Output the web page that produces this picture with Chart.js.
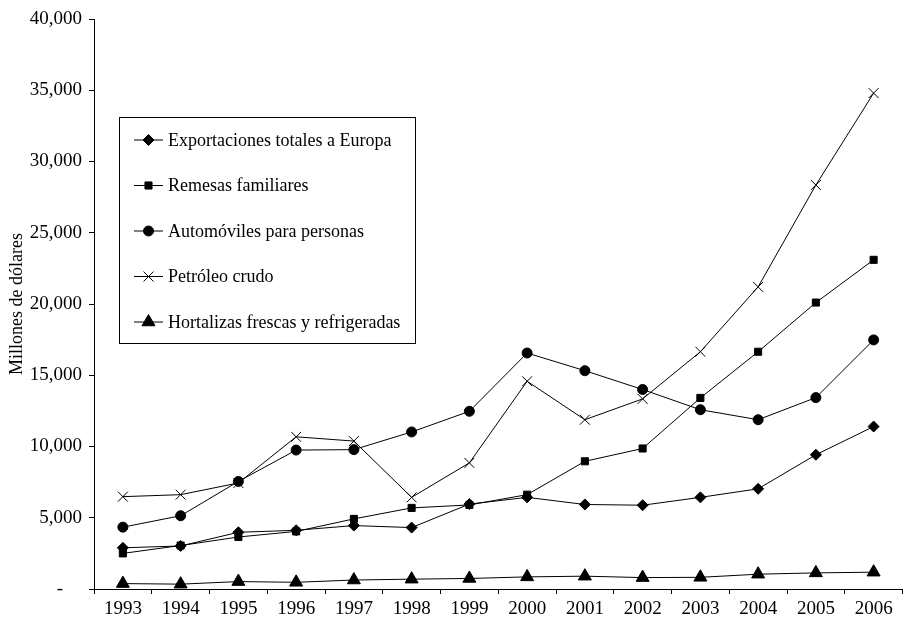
<!DOCTYPE html>
<html lang="es">
<head>
    <meta charset="UTF-8">
    <title>Exportaciones y remesas</title>
    <script src="https://cdn.jsdelivr.net/npm/chart.js"></script>
    <style>
        * { margin: 0; padding: 0; box-sizing: border-box; }
        html, body { width: 905px; height: 617px; overflow: hidden; background: #fff; }
        .wrap { width: 911px; height: 617px; }
    </style>
</head>
<body>
    <div class="wrap">
        <canvas id="chart" width="911" height="617"></canvas>
    </div>

    <script>
        const years = ['1993', '1994', '1995', '1996', '1997', '1998', '1999',
                       '2000', '2001', '2002', '2003', '2004', '2005', '2006'];
        const exportaciones = [2890, 3020, 3980, 4120, 4450, 4310, 5960, 6430, 5930, 5880, 6430, 7030, 9420, 11400];
        const remesas = [2500, 3050, 3650, 4040, 4920, 5690, 5900, 6620, 8960, 9860, 13410, 16650, 20100, 23100];
        const automoviles = [4340, 5140, 7550, 9750, 9780, 11020, 12470, 16560, 15320, 14000, 12580, 11880, 13430, 17480];
        const petroleo = [6480, 6620, 7440, 10680, 10380, 6430, 8850, 14580, 11880, 13340, 16650, 21200, 28350, 34800];
        const hortalizas = [380, 340, 520, 470, 630, 690, 740, 850, 900, 800, 820, 1040, 1130, 1180];
        const yTicks = [0, 5000, 10000, 15000, 20000, 25000, 30000, 35000, 40000];

        const serif = "'Liberation Serif', 'Times New Roman', serif";

        function series(label, data, pointStyle, radius) {
            return {
                label: label,
                data: data,
                borderColor: '#000',
                backgroundColor: '#000',
                borderWidth: 1,
                pointStyle: pointStyle,
                pointRadius: radius,
                pointBorderWidth: 1,
                pointBackgroundColor: '#000',
                pointBorderColor: '#000',
                tension: 0
            };
        }

        // legend box drawn inside the plot, like the original
        const boxLegend = {
            id: 'boxLegend',
            afterDraw(chart) {
                const ctx = chart.ctx;
                ctx.save();
                ctx.fillStyle = '#fff';
                ctx.fillRect(119.5, 117.5, 296, 226);
                ctx.strokeStyle = '#000';
                ctx.lineWidth = 1;
                ctx.strokeRect(119.5, 117.5, 296, 226);
                ctx.font = '18px ' + serif;
                ctx.textBaseline = 'middle';
                chart.data.datasets.forEach((ds, i) => {
                    const y = 140 + i * 45.5;
                    ctx.strokeStyle = '#000';
                    ctx.lineWidth = 1;
                    ctx.beginPath();
                    ctx.moveTo(134, y);
                    ctx.lineTo(163, y);
                    ctx.stroke();
                    ctx.fillStyle = '#000';
                    Chart.helpers.drawPoint(ctx, {
                        pointStyle: ds.pointStyle,
                        radius: ds.pointRadius,
                        rotation: 0,
                        borderWidth: 1
                    }, 148.5, y);
                    ctx.fillStyle = '#000';
                    ctx.fillText(ds.label, 168, y + 1);
                });
                ctx.restore();
            }
        };

        new Chart(document.getElementById('chart').getContext('2d'), {
            type: 'line',
            data: {
                labels: years,
                datasets: [
                    series('Exportaciones totales a Europa', exportaciones, 'rectRot', 5.5),
                    series('Remesas familiares', remesas, 'rect', 5),
                    series('Automóviles para personas', automoviles, 'circle', 5),
                    series('Petróleo crudo', petroleo, 'crossRot', 7),
                    series('Hortalizas frescas y refrigeradas', hortalizas, 'triangle', 7.5)
                ]
            },
            options: {
                responsive: false,
                animation: false,
                layout: { padding: { top: 19, right: 0, bottom: 0, left: 0 } },
                plugins: {
                    legend: { display: false },
                    tooltip: { enabled: false }
                },
                scales: {
                    x: {
                        offset: true,
                        grid: { offset: true, drawOnChartArea: false, tickLength: 5, color: '#000' },
                        border: { color: '#000', width: 1 },
                        ticks: { font: { family: serif, size: 19 }, color: '#000', padding: 4, maxRotation: 0, autoSkip: false },
                        afterFit: s => { s.height = 28; }
                    },
                    y: {
                        min: 0,
                        max: 40000,
                        afterBuildTicks: s => { s.ticks = yTicks.map(v => ({ value: v })); },
                        grid: { drawOnChartArea: false, tickLength: 5, color: '#000' },
                        border: { color: '#000', width: 1 },
                        ticks: {
                            font: { family: serif, size: 19 },
                            color: '#000',
                            padding: 7,
                            callback: v => v === 0 ? '-    ' : v.toLocaleString('en-US')
                        },
                        title: {
                            display: true,
                            text: 'Millones de dólares',
                            font: { family: serif, size: 18 },
                            color: '#000',
                            padding: { top: 6, bottom: 0 }
                        },
                        afterFit: s => { s.width = 94; }
                    }
                }
            },
            plugins: [boxLegend]
        });
    </script>
</body>
</html>
